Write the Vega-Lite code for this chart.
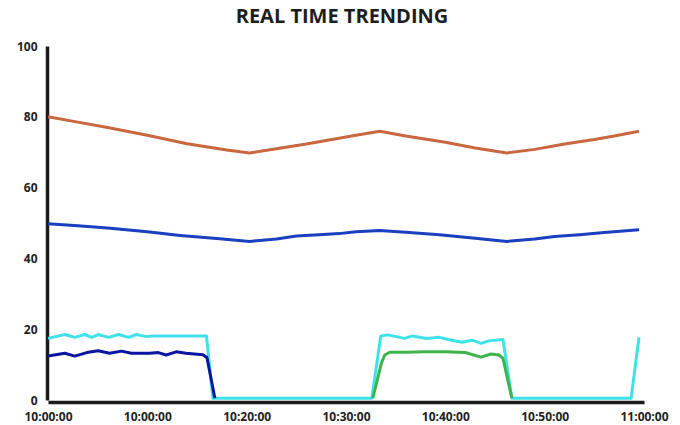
{
  "$schema": "https://vega.github.io/schema/vega-lite/v6.json",
  "width": 596,
  "height": 354,
  "autosize": {"type": "none"},
  "padding": {"left": 48, "top": 46, "right": 36, "bottom": 25},
  "background": "white",
  "title": {
    "text": "REAL TIME TRENDING",
    "font": "Open Sans",
    "fontWeight": "bold",
    "fontSize": 20,
    "color": "#1e1e1e",
    "anchor": "middle",
    "dx": -4,
    "offset": 13
  },
  "config": {
    "view": {"stroke": null},
    "axis": {
      "grid": false,
      "ticks": false,
      "domainColor": "#1c1c1c",
      "domainWidth": 3.5,
      "labelFont": "Open Sans",
      "labelFontWeight": "bold",
      "labelFontSize": 12,
      "labelColor": "#222222",
      "title": null
    }
  },
  "data": {
    "values": [
      {"t": 0, "v": 80, "s": "orange"},
      {"t": 3, "v": 78.5, "s": "orange"},
      {"t": 6, "v": 77, "s": "orange"},
      {"t": 10, "v": 74.8, "s": "orange"},
      {"t": 14, "v": 72.4, "s": "orange"},
      {"t": 18, "v": 70.6, "s": "orange"},
      {"t": 20.3, "v": 69.8, "s": "orange"},
      {"t": 23, "v": 71, "s": "orange"},
      {"t": 26, "v": 72.3, "s": "orange"},
      {"t": 29, "v": 73.8, "s": "orange"},
      {"t": 31, "v": 74.8, "s": "orange"},
      {"t": 33.4, "v": 75.9, "s": "orange"},
      {"t": 36, "v": 74.6, "s": "orange"},
      {"t": 40, "v": 72.8, "s": "orange"},
      {"t": 43, "v": 71.2, "s": "orange"},
      {"t": 46.2, "v": 69.8, "s": "orange"},
      {"t": 49, "v": 70.8, "s": "orange"},
      {"t": 52, "v": 72.3, "s": "orange"},
      {"t": 55, "v": 73.6, "s": "orange"},
      {"t": 57, "v": 74.6, "s": "orange"},
      {"t": 59.5, "v": 75.9, "s": "orange"},

      {"t": 0, "v": 49.8, "s": "blue"},
      {"t": 3, "v": 49.2, "s": "blue"},
      {"t": 6, "v": 48.6, "s": "blue"},
      {"t": 10, "v": 47.5, "s": "blue"},
      {"t": 13.3, "v": 46.5, "s": "blue"},
      {"t": 17, "v": 45.6, "s": "blue"},
      {"t": 20.3, "v": 44.8, "s": "blue"},
      {"t": 23, "v": 45.5, "s": "blue"},
      {"t": 25, "v": 46.3, "s": "blue"},
      {"t": 27.3, "v": 46.7, "s": "blue"},
      {"t": 29.3, "v": 47, "s": "blue"},
      {"t": 31, "v": 47.5, "s": "blue"},
      {"t": 33.4, "v": 47.9, "s": "blue"},
      {"t": 36, "v": 47.4, "s": "blue"},
      {"t": 39.4, "v": 46.7, "s": "blue"},
      {"t": 43, "v": 45.7, "s": "blue"},
      {"t": 46.2, "v": 44.8, "s": "blue"},
      {"t": 49, "v": 45.5, "s": "blue"},
      {"t": 51, "v": 46.2, "s": "blue"},
      {"t": 53.5, "v": 46.7, "s": "blue"},
      {"t": 56, "v": 47.3, "s": "blue"},
      {"t": 59.5, "v": 48.1, "s": "blue"},

      {"t": 0, "v": 17.4, "s": "cyan"},
      {"t": 1.7, "v": 18.5, "s": "cyan"},
      {"t": 2.7, "v": 17.7, "s": "cyan"},
      {"t": 3.7, "v": 18.5, "s": "cyan"},
      {"t": 4.4, "v": 17.7, "s": "cyan"},
      {"t": 5.05, "v": 18.5, "s": "cyan"},
      {"t": 6.1, "v": 17.7, "s": "cyan"},
      {"t": 7.1, "v": 18.5, "s": "cyan"},
      {"t": 8.1, "v": 17.7, "s": "cyan"},
      {"t": 8.9, "v": 18.5, "s": "cyan"},
      {"t": 9.9, "v": 17.9, "s": "cyan"},
      {"t": 10.5, "v": 18.1, "s": "cyan"},
      {"t": 15.95, "v": 18.1, "s": "cyan"},
      {"t": 16.6, "v": 0.5, "s": "cyan"},
      {"t": 32.6, "v": 0.5, "s": "cyan"},
      {"t": 33.5, "v": 18.1, "s": "cyan"},
      {"t": 34.2, "v": 18.4, "s": "cyan"},
      {"t": 35.9, "v": 17.4, "s": "cyan"},
      {"t": 36.7, "v": 18.1, "s": "cyan"},
      {"t": 38.1, "v": 17.4, "s": "cyan"},
      {"t": 39.4, "v": 17.7, "s": "cyan"},
      {"t": 40.6, "v": 16.9, "s": "cyan"},
      {"t": 41.7, "v": 16.3, "s": "cyan"},
      {"t": 42.7, "v": 16.9, "s": "cyan"},
      {"t": 43.6, "v": 16.0, "s": "cyan"},
      {"t": 44.4, "v": 16.7, "s": "cyan"},
      {"t": 45.8, "v": 17.1, "s": "cyan"},
      {"t": 46.7, "v": 0.5, "s": "cyan"},
      {"t": 58.7, "v": 0.5, "s": "cyan"},
      {"t": 59.5, "v": 17.7, "s": "cyan"},

      {"t": 0, "v": 12.4, "s": "navy"},
      {"t": 1.7, "v": 13.2, "s": "navy"},
      {"t": 2.7, "v": 12.4, "s": "navy"},
      {"t": 3.9, "v": 13.4, "s": "navy"},
      {"t": 5.05, "v": 13.9, "s": "navy"},
      {"t": 6.2, "v": 13.2, "s": "navy"},
      {"t": 7.4, "v": 13.8, "s": "navy"},
      {"t": 8.4, "v": 13.2, "s": "navy"},
      {"t": 10.25, "v": 13.2, "s": "navy"},
      {"t": 11.1, "v": 13.4, "s": "navy"},
      {"t": 11.9, "v": 12.7, "s": "navy"},
      {"t": 12.9, "v": 13.6, "s": "navy"},
      {"t": 13.9, "v": 13.2, "s": "navy"},
      {"t": 15.6, "v": 12.8, "s": "navy"},
      {"t": 16.0, "v": 12.0, "s": "navy"},
      {"t": 16.8, "v": 0.5, "s": "navy"},

      {"t": 32.7, "v": 0.5, "s": "green"},
      {"t": 33.55, "v": 10.3, "s": "green"},
      {"t": 33.9, "v": 12.7, "s": "green"},
      {"t": 34.4, "v": 13.5, "s": "green"},
      {"t": 36, "v": 13.5, "s": "green"},
      {"t": 38, "v": 13.6, "s": "green"},
      {"t": 40, "v": 13.6, "s": "green"},
      {"t": 42, "v": 13.4, "s": "green"},
      {"t": 43.6, "v": 12.1, "s": "green"},
      {"t": 44.6, "v": 13.0, "s": "green"},
      {"t": 45.4, "v": 12.7, "s": "green"},
      {"t": 45.8, "v": 11.8, "s": "green"},
      {"t": 46.7, "v": 0.5, "s": "green"}
    ]
  },
  "mark": {"type": "line", "strokeWidth": 3, "strokeJoin": "round", "strokeCap": "butt"},
  "encoding": {
    "x": {
      "field": "t",
      "type": "quantitative",
      "scale": {"domain": [0, 60], "nice": false, "zero": false},
      "axis": {
        "values": [0, 10, 20, 30, 40, 50, 60],
        "labelExpr": "['10:00:00','10:00:00','10:20:00','10:30:00','10:40:00','10:50:00','11:00:00'][round(datum.value/10)]",
        "labelFlush": false,
        "labelOverlap": false,
        "labelPadding": 9,
        "offset": 2
      }
    },
    "y": {
      "field": "v",
      "type": "quantitative",
      "scale": {"domain": [0, 100], "nice": false},
      "axis": {
        "values": [0, 20, 40, 60, 80, 100],
        "labelPadding": 10,
        "offset": 1
      }
    },
    "color": {
      "field": "s",
      "type": "nominal",
      "sort": ["orange", "blue", "cyan", "navy", "green"],
      "scale": {
        "domain": ["orange", "blue", "cyan", "navy", "green"],
        "range": ["#c96840", "#1a3fbf", "#40e2ea", "#0a16a0", "#3db54a"]
      },
      "legend": null
    }
  }
}
